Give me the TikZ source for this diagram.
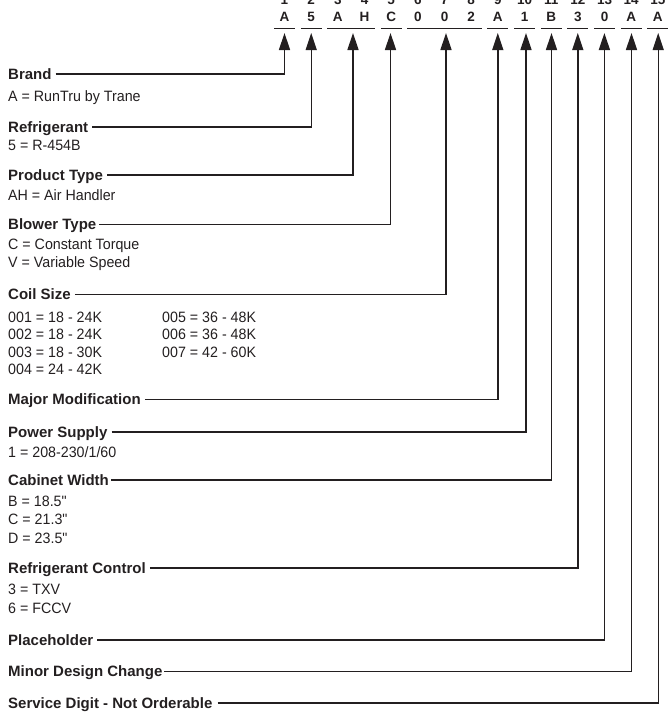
\documentclass[tikz,border=0pt]{standalone}
\usepackage{fontspec}
\setmainfont{Liberation Sans}
\newfontfamily\condfont[FakeStretch=0.95]{Liberation Sans}
\usetikzlibrary{arrows.meta}
\definecolor{ink}{HTML}{231F20}
\begin{document}
\begin{tikzpicture}[x=1pt,y=-1pt,
  lab/.style={anchor=west, inner sep=0pt, text height=10.8pt, text depth=0pt, font=\bfseries\fontsize{15}{18}\selectfont, text=ink},
  val/.style={anchor=base west, inner sep=0pt, font=\condfont\fontsize{15}{18}\selectfont, text=ink},
  code/.style={anchor=base, inner sep=0pt, font=\bfseries\fontsize{13.5}{15}\selectfont, text=ink},
  conn/.style={draw=ink, line width=1.4pt, line join=miter, -{Triangle[length=17pt,width=11pt]}},
  uline/.style={draw=ink, line width=1.2pt}]
\useasboundingbox (0,0) rectangle (668,715);

% top code row
\foreach \i/\c [evaluate=\i as \xx using {284.5+(\i-1)*26.667}] in
  {1/A,2/5,3/A,4/H,5/C,6/0,7/0,8/2,9/A,10/1,11/B,12/3,13/0,14/A,15/A}{
  \node[code] (n\i) at (\xx,4.0) {\i};
  \node[code] (c\i) at (\xx,21.9) {\c};
}
% underlines
\foreach \a/\b in {1/1,2/2,3/4,5/5,6/8,9/9,10/10,11/11,12/12,13/13,14/14,15/15}{
  \draw[uline] ({284.5+(\a-1)*26.667-10.35},28.3) -- ({284.5+(\b-1)*26.667+10.35},28.3);
}

% arrow tip coordinates
\coordinate (t1) at (284.5,33);
\coordinate (t2) at (311.2,33);
\coordinate (t3) at (353,33);
\coordinate (t4) at (390.5,33);
\coordinate (t5) at (446,33);
\coordinate (t6) at (497.8,33);
\coordinate (t7) at (526,33);
\coordinate (t8) at (551.5,33);
\coordinate (t9) at (577.8,33);
\coordinate (t10) at (604.4,33);
\coordinate (t11) at (631.5,33);
\coordinate (t12) at (658.2,33);

% labels
\node[lab] (brand) at (8,74) {Brand};
\node[val] (brandv) at (8,101.3) {A = RunTru by Trane};

\node[lab] (refr) at (8,127) {Refrigerant};
\node[val] (refrv) at (8,150.3) {5 = R-454B};

\node[lab] (prod) at (8,175) {Product Type};
\node[val] (prodv) at (8,200.5) {AH = Air Handler};

\node[lab] (blow) at (8,224.5) {Blower Type};
\node[val] (blowv1) at (8,249.5) {C = Constant Torque};
\node[val] (blowv2) at (8,267.3) {V = Variable Speed};

\node[lab] (coil) at (8,294.5) {Coil Size};
\node[val] (coil1) at (8,322) {001 = 18 - 24K};
\node[val] (coil2) at (8,339.5) {002 = 18 - 24K};
\node[val] (coil3) at (8,357) {003 = 18 - 30K};
\node[val] (coil4) at (8,374.5) {004 = 24 - 42K};
\node[val] (coil5) at (162,322) {005 = 36 - 48K};
\node[val] (coil6) at (162,339.5) {006 = 36 - 48K};
\node[val] (coil7) at (162,357) {007 = 42 - 60K};

\node[lab] (major) at (8,399.5) {Major Modification};

\node[lab] (power) at (8,432) {Power Supply};
\node[val] (powerv) at (8,457) {1 = 208-230/1/60};

\node[lab] (cab) at (8,480) {Cabinet Width};
\node[val] (cab1) at (8,506.3) {B = 18.5"};
\node[val] (cab2) at (8,524.8) {C = 21.3"};
\node[val] (cab3) at (8,543.3) {D = 23.5"};

\node[lab] (rctl) at (8,568) {Refrigerant Control};
\node[val] (rctl1) at (8,594.8) {3 = TXV};
\node[val] (rctl2) at (8,613.3) {6 = FCCV};

\node[lab] (place) at (8,640) {Placeholder};
\node[lab] (minor) at (8,671.5) {Minor Design Change};
\node[lab] (serv) at (8,703) {Service Digit - Not Orderable};

% connectors
\draw[conn] ([xshift=4pt]brand.east) -| (t1);
\draw[conn] ([xshift=4pt]refr.east) -| (t2);
\draw[conn] ([xshift=4pt]prod.east) -| (t3);
\draw[conn] ([xshift=3pt]blow.east) -| (t4);
\draw[conn] ([xshift=4pt]coil.east) -| (t5);
\draw[conn] ([xshift=4pt]major.east) -| (t6);
\draw[conn] ([xshift=4pt]power.east) -| (t7);
\draw[conn] ([xshift=2pt]cab.east) -| (t8);
\draw[conn] ([xshift=4pt]rctl.east) -| (t9);
\draw[conn] ([xshift=4pt]place.east) -| (t10);
\draw[conn] ([xshift=1.5pt]minor.east) -| (t11);
\draw[conn] ([xshift=5pt]serv.east) -| (t12);
\end{tikzpicture}
\end{document}
